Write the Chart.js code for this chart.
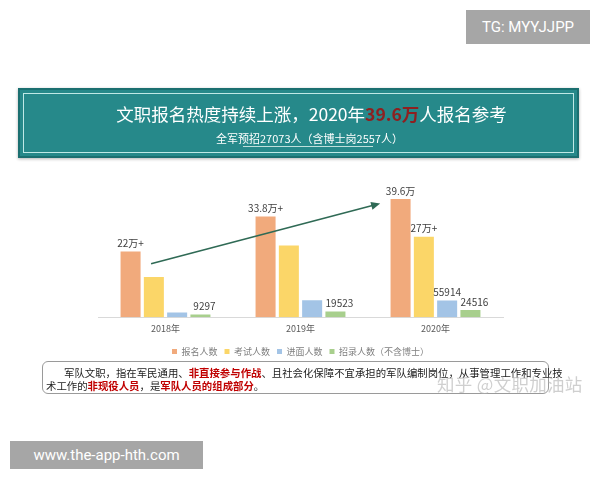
<!DOCTYPE html>
<html><head><meta charset="utf-8">
<script src="https://cdn.jsdelivr.net/npm/chart.js@4.4.1/dist/chart.umd.min.js"></script>
<style>
html,body{margin:0;padding:0;background:#fff;width:600px;height:480px;overflow:hidden;font-family:"Noto Sans CJK SC","Noto Sans",sans-serif;}
#wrap{position:relative;width:600px;height:480px;}
canvas{position:absolute;left:0;top:0;}
.tag{position:absolute;background:#a6a6a6;color:#fff;font-family:Roboto,"Liberation Sans",sans-serif;font-size:15px;line-height:1;display:flex;align-items:center;justify-content:center;}
#head{position:absolute;left:18px;top:88px;width:561px;height:70px;box-sizing:border-box;background:#26898a;border:2px solid #1b6f70;box-shadow:0 1px 3px rgba(0,0,0,0.3);}
#head .inner{position:absolute;left:3px;top:3px;right:3px;bottom:3px;border:1px solid #bfe9e6;}
#t1{position:absolute;left:0;right:0;top:11px;text-align:center;color:#fff;font-size:17.5px;letter-spacing:0px;padding-left:26px;}
#t1 b{color:#8e2020;font-weight:bold;}
#t2{position:absolute;left:0;right:0;top:40px;text-align:center;color:#fff;font-size:11px;padding-left:22px;}
#uline{position:absolute;left:223px;top:56px;width:130px;height:1px;background:#bfe0dc;}
#note{position:absolute;left:42px;top:361px;width:507px;height:33px;box-sizing:border-box;border:1px solid #9a9a9a;border-radius:6px;font-size:10.4px;line-height:13px;color:#222;padding:4px 0 0 3px;white-space:nowrap;}
#note b{color:#c00000;}
#wm{position:absolute;left:437px;top:371px;font-size:17.5px;color:rgba(175,175,175,0.6);letter-spacing:0.3px;}
</style></head>
<body><div id="wrap">
<canvas id="c" width="600" height="480"></canvas>
<div class="tag" style="left:466px;top:10px;width:124px;height:34px;">TG: MYYJJPP</div>
<div class="tag" style="left:10px;top:441px;width:193px;height:28px;">www.the-app-hth.com</div>
<div id="head"><div class="inner"></div>
<div id="t1">文职报名热度持续上涨，2020年<b>39.6万</b>人报名参考</div>
<div id="t2">全军预招27073人（含博士岗2557人）</div>
<div id="uline"></div>
</div>
<div id="note"><span style="display:inline-block;width:18px"></span>军队文职，指在军民通用、<b>非直接参与作战</b>、且社会化保障不宜承担的军队编制岗位，从事管理工作和专业技<br>术工作的<b>非现役人员</b>，是<b>军队人员的组成部分</b>。</div>
<div id="wm">知乎 @文职加油站</div>
</div>
<script>
const categories = ["2018年", "2019年", "2020年"];
const seriesNames = ["报名人数", "考试人数", "进面人数", "招录人数（不含博士）"];
const signup = [220000, 338000, 396000];
const exam = [135000, 240000, 270000];
const interview = [16000, 57000, 55914];
const hired = [9297, 19523, 24516];
const signupLabels = ["22万+", "33.8万+", "39.6万"];
const examLabels = ["", "", "27万+"];
const interviewLabels = ["", "", "55914"];
const hiredLabels = ["9297", "19523", "24516"];
// trend arrow in data units: [category index, value]
const arrowFrom = [-0.107, 179000];
const arrowTo = [1.59, 381000];

const colors = ["#f1aa7c", "#fbd668", "#a3c4e6", "#a8cf8d"];
const labelSets = [signupLabels, examLabels, interviewLabels, hiredLabels];
const seriesData = [signup, exam, interview, hired];

const valueLabels = {
  id: "valueLabels",
  afterDatasetsDraw(chart) {
    const ctx = chart.ctx;
    ctx.save();
    ctx.font = '10px "Noto Sans CJK SC"';
    ctx.fillStyle = "#404040";
    ctx.textAlign = "center";
    ctx.textBaseline = "bottom";
    chart.data.datasets.forEach((ds, i) => {
      const meta = chart.getDatasetMeta(i);
      meta.data.forEach((bar, j) => {
        const t = labelSets[i][j];
        if (t) ctx.fillText(t, bar.x + (i === 3 ? 4 : 0), bar.y - 3);
      });
    });
    ctx.restore();
  }
};
const trendArrow = {
  id: "trendArrow",
  afterDatasetsDraw(chart) {
    const xs = chart.scales.x, ys = chart.scales.y;
    const step = xs.getPixelForValue(1) - xs.getPixelForValue(0);
    const x0 = xs.getPixelForValue(0) + arrowFrom[0] * step, y0 = ys.getPixelForValue(arrowFrom[1]);
    const x1 = xs.getPixelForValue(0) + arrowTo[0] * step, y1 = ys.getPixelForValue(arrowTo[1]);
    const ctx = chart.ctx;
    ctx.save();
    ctx.strokeStyle = "#2f6a55"; ctx.fillStyle = "#2f6a55"; ctx.lineWidth = 1.6;
    const a = Math.atan2(y1 - y0, x1 - x0);
    ctx.beginPath(); ctx.moveTo(x0, y0); ctx.lineTo(x1 - 6 * Math.cos(a), y1 - 6 * Math.sin(a)); ctx.stroke();
    ctx.beginPath();
    ctx.moveTo(x1, y1);
    ctx.lineTo(x1 - 9 * Math.cos(a) + 4 * Math.sin(a), y1 - 9 * Math.sin(a) - 4 * Math.cos(a));
    ctx.lineTo(x1 - 9 * Math.cos(a) - 4 * Math.sin(a), y1 - 9 * Math.sin(a) + 4 * Math.cos(a));
    ctx.closePath(); ctx.fill();
    ctx.restore();
  }
};

new Chart(document.getElementById("c"), {
  type: "bar",
  data: {
    labels: categories,
    datasets: seriesNames.map((n, i) => ({
      label: n, data: seriesData[i], backgroundColor: colors[i],
      categoryPercentage: 0.69, barPercentage: 0.86
    }))
  },
  options: {
    responsive: false, animation: false, devicePixelRatio: 1,
    layout: { padding: { left: 98, right: 97, top: 180, bottom: 114 } },
    scales: {
      x: {
        grid: { display: false, drawTicks: false },
        border: { display: true, color: "#d9d9d9", width: 1 },
        ticks: { color: "#595959", font: { size: 9, family: "Noto Sans CJK SC" }, padding: 6 }
      },
      y: { display: false, min: 0, max: 460000 }
    },
    plugins: {
      legend: {
        position: "bottom",
        labels: { boxWidth: 5, boxHeight: 5, color: "#7f7f7f", padding: 7, font: { size: 9, family: "Noto Sans CJK SC" } }
      },
      tooltip: { enabled: false }
    }
  },
  plugins: [valueLabels, trendArrow]
});
</script>
</body></html>
